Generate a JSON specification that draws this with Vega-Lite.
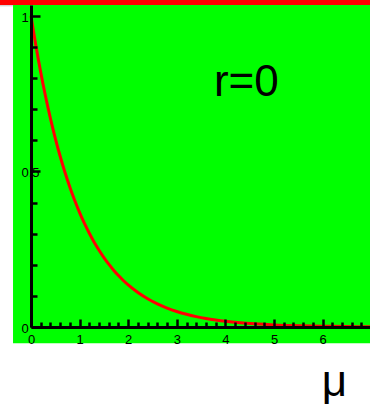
{
  "$schema": "https://vega.github.io/schema/vega-lite/v6.json",
  "width": 339,
  "height": 322,
  "autosize": {"type": "none"},
  "padding": {"left": 31, "top": 5, "right": 0, "bottom": 79},
  "background": "white",
  "config": {
    "view": {"stroke": null},
    "font": "Liberation Sans"
  },
  "resolve": {"axis": {"x": "independent", "y": "independent"}},
  "layer": [
    {
      "data": {"values": [{}]},
      "mark": {"type": "rect", "color": "#00ff00", "clip": false},
      "encoding": {
        "x": {"datum": -0.37, "type": "quantitative", "axis": null},
        "x2": {"datum": 6.975},
        "y": {"datum": -0.052, "type": "quantitative", "axis": null},
        "y2": {"datum": 1.035}
      }
    },
    {
      "data": {"values": [{}]},
      "mark": {"type": "rect", "color": "#ff0000", "clip": false},
      "encoding": {
        "x": {"datum": -0.64, "type": "quantitative", "axis": null},
        "x2": {"datum": 6.975},
        "y": {"datum": 1.035, "type": "quantitative", "axis": null},
        "y2": {"datum": 1.052}
      }
    },
    {
      "data": {"values": [{}]},
      "mark": {"type": "rect", "color": "#d4d4d4", "clip": false},
      "encoding": {
        "x": {"datum": -0.64, "type": "quantitative", "axis": null},
        "x2": {"datum": -0.37},
        "y": {"datum": 1.0305, "type": "quantitative", "axis": null},
        "y2": {"datum": 1.035}
      }
    },
    {
      "data": {
        "values": [
          {"mu": 0, "f": 1},
          {"mu": 0.05, "f": 0.9512},
          {"mu": 0.1, "f": 0.9048},
          {"mu": 0.15, "f": 0.8607},
          {"mu": 0.2, "f": 0.8187},
          {"mu": 0.25, "f": 0.7788},
          {"mu": 0.3, "f": 0.7408},
          {"mu": 0.35, "f": 0.7047},
          {"mu": 0.4, "f": 0.6703},
          {"mu": 0.45, "f": 0.6376},
          {"mu": 0.5, "f": 0.6065},
          {"mu": 0.6, "f": 0.5488},
          {"mu": 0.7, "f": 0.4966},
          {"mu": 0.8, "f": 0.4493},
          {"mu": 0.9, "f": 0.4066},
          {"mu": 1.0, "f": 0.3679},
          {"mu": 1.1, "f": 0.3329},
          {"mu": 1.2, "f": 0.3012},
          {"mu": 1.3, "f": 0.2725},
          {"mu": 1.4, "f": 0.2466},
          {"mu": 1.5, "f": 0.2231},
          {"mu": 1.6, "f": 0.2019},
          {"mu": 1.7, "f": 0.1827},
          {"mu": 1.8, "f": 0.1653},
          {"mu": 1.9, "f": 0.1496},
          {"mu": 2.0, "f": 0.1353},
          {"mu": 2.2, "f": 0.1108},
          {"mu": 2.4, "f": 0.0907},
          {"mu": 2.6, "f": 0.0743},
          {"mu": 2.8, "f": 0.0608},
          {"mu": 3.0, "f": 0.0498},
          {"mu": 3.2, "f": 0.0408},
          {"mu": 3.4, "f": 0.0334},
          {"mu": 3.6, "f": 0.0273},
          {"mu": 3.8, "f": 0.0224},
          {"mu": 4.0, "f": 0.0183},
          {"mu": 4.3, "f": 0.0136},
          {"mu": 4.6, "f": 0.0101},
          {"mu": 5.0, "f": 0.0067},
          {"mu": 5.5, "f": 0.0041},
          {"mu": 6.0, "f": 0.0025},
          {"mu": 6.5, "f": 0.0015},
          {"mu": 6.975, "f": 0.0009}
        ]
      },
      "mark": {"type": "line", "color": "#ff0000", "strokeWidth": 3, "interpolate": "monotone", "clip": false},
      "encoding": {
        "x": {
          "field": "mu",
          "type": "quantitative",
          "scale": {"domain": [0, 6.975], "nice": false, "zero": false},
          "axis": {
            "orient": "bottom",
            "zindex": 1,
            "values": [0, 0.2, 0.4, 0.6, 0.8, 1, 1.2, 1.4, 1.6, 1.8, 2, 2.2, 2.4, 2.6, 2.8, 3, 3.2, 3.4, 3.6, 3.8, 4, 4.2, 4.4, 4.6, 4.8, 5, 5.2, 5.4, 5.6, 5.8, 6, 6.2, 6.4, 6.6, 6.8],
            "domainColor": "black",
            "domainWidth": 3,
            "tickColor": "black",
            "tickWidth": 2.5,
            "tickSize": {"condition": {"test": "datum.value % 1 === 0", "value": -8}, "value": -5},
            "labelExpr": "datum.value % 1 === 0 ? format(datum.value, 'd') : ''",
            "labelFont": "Liberation Sans",
            "labelFontSize": 13,
            "labelColor": "black",
            "labelBaseline": "alphabetic",
            "labelPadding": 24,
            "labelFlush": false,
            "labelOverlap": false,
            "labelBound": false,
            "grid": false,
            "title": "μ",
            "titleFont": "Liberation Sans",
            "titleFontSize": 44,
            "titleFontWeight": "normal",
            "titleColor": "black",
            "titleAlign": "center",
            "titleBaseline": "alphabetic",
            "titleX": 303,
            "titleY": 68
          }
        },
        "y": {
          "field": "f",
          "type": "quantitative",
          "scale": {"domain": [0, 1.035], "nice": false, "zero": false},
          "axis": {
            "orient": "left",
            "zindex": 1,
            "values": [0, 0.1, 0.2, 0.3, 0.4, 0.5, 0.6, 0.7, 0.8, 0.9, 1],
            "domainColor": "black",
            "domainWidth": 3,
            "tickColor": "black",
            "tickWidth": 2.5,
            "tickSize": {"condition": {"test": "(datum.value * 2) % 1 === 0", "value": -9}, "value": -6},
            "labelExpr": "datum.value === 0.5 ? '0.5' : (datum.value % 1 === 0 ? format(datum.value, 'd') : '')",
            "labelFont": "Liberation Sans",
            "labelFontSize": 13,
            "labelColor": "black",
            "labelAlign": "left",
            "labelBaseline": "middle",
            "labelOffset": 1.5,
            "labelPadding": 19,
            "labelFlush": false,
            "labelOverlap": false,
            "labelBound": false,
            "grid": false,
            "title": null
          }
        }
      }
    },
    {
      "data": {"values": [{}]},
      "mark": {"type": "text", "font": "Liberation Sans", "fontSize": 44, "color": "black", "align": "center", "baseline": "alphabetic", "clip": false},
      "encoding": {
        "x": {"datum": 4.43, "type": "quantitative", "axis": null},
        "y": {"datum": 0.743, "type": "quantitative", "axis": null},
        "text": {"value": "r=0"}
      }
    }
  ]
}
